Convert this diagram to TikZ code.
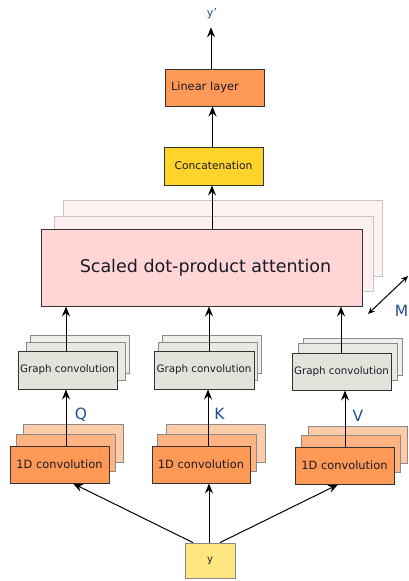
\documentclass[tikz,border=0pt]{standalone}
\usepackage{fontspec}
\setmainfont{DejaVu Sans}
\usetikzlibrary{arrows.meta}
\definecolor{orangeA}{HTML}{FF9955}
\definecolor{orangeB}{HTML}{FFB380}
\definecolor{orangeC}{HTML}{FFCCAA}
\definecolor{yellowA}{HTML}{FFD42A}
\definecolor{yellowB}{HTML}{FFE680}
\definecolor{pinkA}{HTML}{FFD5D5}
\definecolor{pinkB}{HTML}{FDEFEF}
\definecolor{pinkC}{HTML}{FEF3F3}
\definecolor{grayA}{HTML}{E3E3DB}
\definecolor{grayB}{HTML}{E9E9E4}
\definecolor{grayC}{HTML}{EEEEEA}
\definecolor{txt}{HTML}{1A1A28}
\definecolor{lbl}{HTML}{1F4F8F}
\definecolor{edgeA}{HTML}{333333}
\definecolor{edgeB}{HTML}{8A8A8A}
\definecolor{edgeC}{HTML}{C8C4C4}
\begin{document}
\begin{tikzpicture}[x=1pt,y=-1pt,
  box/.style={draw=edgeA, line width=1pt, inner sep=0pt, text=txt},
  backbox/.style={draw=edgeB, line width=0.8pt, inner sep=0pt},
  arr/.style={draw=black, line width=1pt, -{Stealth[length=10pt,width=8pt,inset=3.5pt]}},
  darr/.style={draw=black, line width=1pt, {Stealth[length=7pt,width=6pt,inset=2.5pt]}-{Stealth[length=7pt,width=6pt,inset=2.5pt]}},
  qkv/.style={text=lbl, font=\fontsize{15.5}{16}\selectfont, inner sep=0pt}
]
\useasboundingbox (0,0) rectangle (409,581);

% ---------- top ----------
\node[text=lbl, font=\fontsize{11}{11}\selectfont, inner sep=0pt] (yout) at (212,14) {y'};
\node[box, fill=orangeA, minimum width=99, minimum height=37, text width=87, align=left, inner xsep=6pt,
      font=\fontsize{11.4}{12}\selectfont] (lin) at (214.5,87.5) {Linear layer};
\node[box, fill=yellowA, minimum width=99, minimum height=38,
      font=\fontsize{10.7}{12}\selectfont] (cat) at (213.5,166) {Concatenation};

% ---------- attention ----------
\node[draw=edgeC, line width=0.8pt, fill=pinkC, minimum width=319, minimum height=76, inner sep=0pt] (att3) at (222.5,238) {};
\node[draw=edgeC, line width=0.8pt, fill=pinkB, minimum width=319, minimum height=75, inner sep=0pt] (att2) at (213.5,253.5) {};
\node[box, fill=pinkA, minimum width=321, minimum height=77,
      font=\fontsize{17.5}{18}\selectfont] (att) at (201.5,267.5) {\hspace*{8pt}Scaled dot-product attention};

% ---------- graph convolution ----------
\node[backbox, fill=grayC, minimum width=99, minimum height=38] (g1c) at (79.5,354.5) {};
\node[backbox, fill=grayB, minimum width=99, minimum height=38] (g1b) at (75.5,361) {};
\node[box, fill=grayA, minimum width=99, minimum height=38, font=\fontsize{10.3}{11}\selectfont] (g1) at (67.5,370) {Graph convolution};

\node[backbox, fill=grayC, minimum width=99, minimum height=38] (g2c) at (212,354.5) {};
\node[backbox, fill=grayB, minimum width=99, minimum height=38] (g2b) at (208,361) {};
\node[box, fill=grayA, minimum width=100, minimum height=38, font=\fontsize{10.3}{11}\selectfont] (g2) at (204,370) {Graph convolution};

\node[backbox, fill=grayC, minimum width=99, minimum height=37] (g3c) at (352.5,356.5) {};
\node[backbox, fill=grayB, minimum width=99, minimum height=37] (g3b) at (347.5,362) {};
\node[box, fill=grayA, minimum width=99, minimum height=37, font=\fontsize{10.3}{11}\selectfont] (g3) at (341.5,371.5) {Graph convolution};

% ---------- 1D convolution ----------
\node[backbox, fill=orangeC, minimum width=100, minimum height=38] (c1c) at (73,443) {};
\node[backbox, fill=orangeB, minimum width=99, minimum height=37] (c1b) at (65.5,452.5) {};
\node[box, fill=orangeA, minimum width=99, minimum height=37, font=\fontsize{11.4}{12}\selectfont] (c1) at (59.5,464.5) {1D convolution};

\node[backbox, fill=orangeC, minimum width=99, minimum height=38] (c2c) at (216,443) {};
\node[backbox, fill=orangeB, minimum width=99, minimum height=37] (c2b) at (207,452.5) {};
\node[box, fill=orangeA, minimum width=98, minimum height=37, font=\fontsize{11.4}{12}\selectfont] (c2) at (201,464.5) {1D convolution};

\node[backbox, fill=orangeC, minimum width=99, minimum height=37] (c3c) at (357.5,444.5) {};
\node[backbox, fill=orangeB, minimum width=99, minimum height=37] (c3b) at (350.5,453.5) {};
\node[box, fill=orangeA, minimum width=99, minimum height=37, font=\fontsize{11.4}{12}\selectfont] (c3) at (344.5,465.5) {1D convolution};

% ---------- input ----------
\node[draw=edgeB, line width=0.8pt, fill=yellowB, minimum width=50, minimum height=35, inner sep=0pt,
      text=txt, font=\fontsize{10}{10}\selectfont] (yin) at (210,560.5) {y};

% ---------- labels ----------
\node[qkv] (Q) at (81,415) {Q};
\node[qkv] (K) at (219.5,414) {K};
\node[qkv] (V) at (358,416) {V};
\node[qkv, anchor=east] (M) at (408.5,311) {M};

% ---------- arrows ----------
\draw[arr] ([xshift=-17]yin.north) -- ([xshift=13.5]c1.south);
\draw[arr] ([xshift=-1]yin.north) -- ([xshift=8]c2.south);
\draw[arr] ([xshift=10]yin.north) -- ([xshift=-6.5]c3.south);

\draw[arr] ([xshift=6.5]c1.north) -- ([xshift=6.5]c1.north |- g1.south);
\draw[arr] ([xshift=7]c2.north) -- ([xshift=7]c2.north |- g2.south);
\draw[arr] ([xshift=0.5]c3.north) -- ([xshift=0.5]c3.north |- g3.south);

\draw[arr] ([xshift=-1.5]g1.north) -- ([xshift=-1.5]g1.north |- att.south);
\draw[arr] ([xshift=5]g2.north) -- ([xshift=5]g2.north |- att.south);
\draw[arr] ([xshift=-0.5]g3.north) -- ([xshift=-0.5]g3.north |- att.south);

\draw[arr] ([xshift=-1.5]cat.north |- att.north) -- ([xshift=-1.5]cat.south);
\draw[arr] ([xshift=-1]cat.north) -- ([xshift=-1]cat.north |- lin.south);
\draw[arr] ([xshift=-3.5]lin.north) -- ([xshift=-3.5,yshift=-8]lin.north |- yout.south);

\coordinate (m1) at (368,314);
\coordinate (m2) at (408,276);
\draw[darr] (m1) -- (m2);
\end{tikzpicture}
\end{document}
